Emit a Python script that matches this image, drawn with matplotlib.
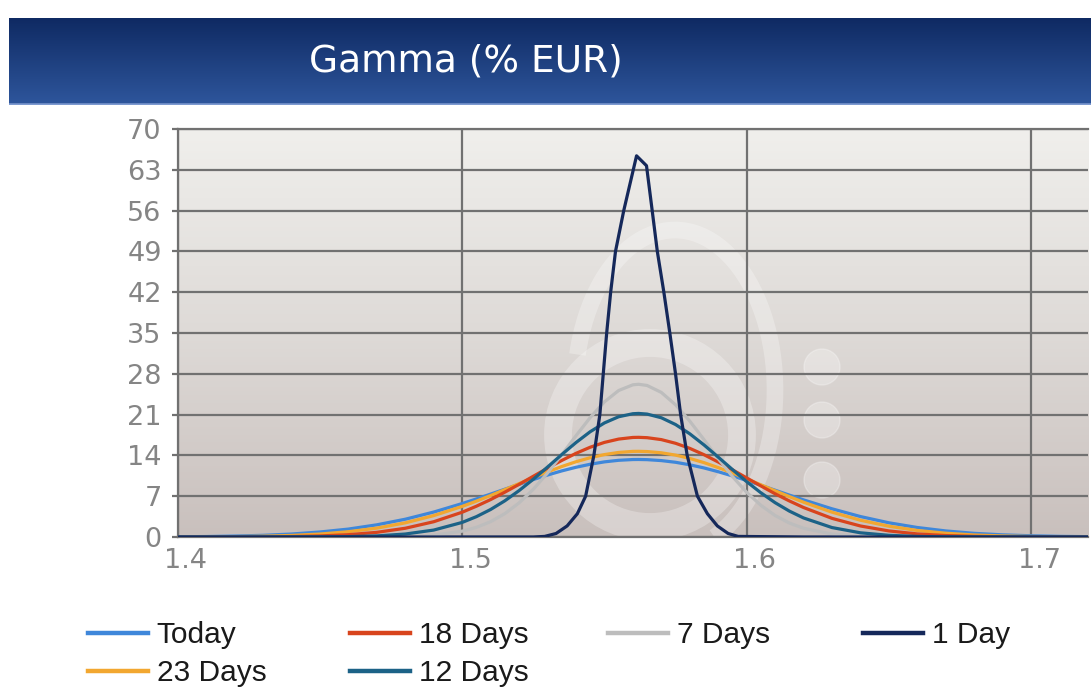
import matplotlib
matplotlib.use("Agg")  # no display
import matplotlib.pyplot as plt
import numpy as np
from matplotlib.colors import LinearSegmentedColormap
from matplotlib.patches import Arc, Circle
from matplotlib.transforms import IdentityTransform, ScaledTranslation

W, H = 1091, 689

# spot grid shared by the five wide curves
X_GRID = [1.39, 1.40, 1.41, 1.42, 1.43, 1.44, 1.45, 1.46, 1.47, 1.48, 1.49, 1.50,
          1.505, 1.51, 1.515, 1.52, 1.525, 1.53, 1.535, 1.54, 1.545, 1.55, 1.555, 1.56,
          1.562,
          1.565, 1.57, 1.575, 1.58, 1.585, 1.59, 1.595, 1.60, 1.605, 1.61, 1.615, 1.62,
          1.63, 1.64, 1.65, 1.66, 1.67, 1.68, 1.69, 1.70, 1.71, 1.72]

TODAY = [0.02, 0.04, 0.08, 0.16, 0.29, 0.51, 0.86, 1.36, 2.09, 3.05, 4.28, 5.74,
         6.53, 7.36, 8.20, 9.04, 9.86, 10.63, 11.34, 11.96, 12.48, 12.89, 13.16, 13.29,
         13.30,
         13.27, 13.11, 12.82, 12.39, 11.85, 11.20, 10.48, 9.70, 8.87, 8.03, 7.19, 6.37,
         4.84, 3.51, 2.44, 1.63, 1.04, 0.63, 0.37, 0.21, 0.11, 0.06]

DAYS_23 = [0.01, 0.01, 0.03, 0.07, 0.14, 0.27, 0.51, 0.91, 1.52, 2.43, 3.67, 5.25,
           6.15, 7.12, 8.13, 9.16, 10.19, 11.17, 12.09, 12.91, 13.60, 14.14, 14.51, 14.69,
           14.70,
           14.66, 14.45, 14.05, 13.48, 12.76, 11.91, 10.98, 9.98, 8.96, 7.93, 6.93, 5.97,
           4.26, 2.88, 1.85, 1.12, 0.65, 0.35, 0.18, 0.09, 0.04, 0.02]

DAYS_18 = [0.00, 0.00, 0.00, 0.01, 0.03, 0.08, 0.18, 0.40, 0.80, 1.50, 2.62, 4.25,
           5.28, 6.42, 7.69, 9.03, 10.42, 11.80, 13.13, 14.35, 15.40, 16.23, 16.80, 17.08,
           17.10,
           17.04, 16.71, 16.08, 15.21, 14.12, 12.87, 11.53, 10.14, 8.76, 7.42, 6.19, 5.06,
           3.20, 1.89, 1.04, 0.53, 0.25, 0.11, 0.05, 0.02, 0.01, 0.00]

DAYS_12 = [0.00, 0.00, 0.00, 0.00, 0.00, 0.01, 0.02, 0.07, 0.19, 0.51, 1.19, 2.50,
           3.49, 4.72, 6.21, 7.96, 9.91, 12.00, 14.14, 16.20, 18.06, 19.57, 20.63, 21.15,
           21.20,
           21.09, 20.46, 19.30, 17.71, 15.80, 13.71, 11.58, 9.50, 7.59, 5.89, 4.45, 3.27,
           1.62, 0.72, 0.29, 0.10, 0.03, 0.01, 0.00, 0.00, 0.00, 0.00]

DAYS_7 = [0.00, 0.00, 0.00, 0.00, 0.00, 0.00, 0.00, 0.00, 0.02, 0.09, 0.32, 1.00,
          1.65, 2.63, 4.01, 5.85, 8.18, 10.97, 14.10, 17.36, 20.49, 23.18, 25.13, 26.11,
          26.20,
          26.00, 24.81, 22.69, 19.89, 16.71, 13.45, 10.38, 7.67, 5.44, 3.69, 2.40, 1.50,
          0.51, 0.15, 0.04, 0.01, 0.00, 0.00, 0.00, 0.00, 0.00, 0.00]

# the 1 day curve is much narrower, so it gets its own points
DAY1_X = [1.39, 1.50, 1.525, 1.529, 1.533, 1.5369, 1.5405, 1.5434, 1.5463, 1.5484,
          1.5496, 1.5508, 1.5522, 1.5539, 1.5568, 1.5613, 1.5648, 1.5668, 1.5686,
          1.5709, 1.5730, 1.5750, 1.5768, 1.5791, 1.5827, 1.5862, 1.5897, 1.5935,
          1.597, 1.62, 1.72]
DAY1_Y = [0.0, 0.0, 0.0, 0.1, 0.6, 1.9, 4.0, 7.0, 14.0, 21.0,
          28.0, 35.0, 42.0, 49.0, 56.0, 65.4, 63.7, 56.0, 49.0,
          42.0, 35.0, 28.0, 21.0, 14.0, 7.0, 4.0, 1.9, 0.6,
          0.1, 0.0, 0.0]

X_TICKS = [1.4, 1.5, 1.6, 1.7]
Y_TICKS = list(range(0, 71, 7))

# draw order (bottom to top)
SERIES = [
    ("Today", X_GRID, TODAY, "#3f87da"),
    ("23 Days", X_GRID, DAYS_23, "#f2a730"),
    ("18 Days", X_GRID, DAYS_18, "#d8441d"),
    ("7 Days", X_GRID, DAYS_7, "#bdbdbd"),
    ("12 Days", X_GRID, DAYS_12, "#1c6287"),
    ("1 Day", DAY1_X, DAY1_Y, "#15285a"),
]
# legend columns: names and left edge in pixels
LEGEND_COLS = [(["Today", "23 Days"], 88), (["18 Days", "12 Days"], 350),
               (["7 Days"], 608), (["1 Day"], 863)]

GRID = "#717171"
TICK = "#858585"

fig = plt.figure(figsize=(W / 100, H / 100), dpi=100)
fig.patch.set_facecolor("white")

# title bar with vertical gradient
bar = fig.add_axes([9 / W, 1 - 105 / H, 1 - 9 / W, 87 / H])
cmap_bar = LinearSegmentedColormap.from_list("bar", ["#0f2a63", "#2e569c"])
bar.imshow(np.linspace(0, 1, 100).reshape(-1, 1), aspect="auto", cmap=cmap_bar,
           extent=[0, 1, 0, 1], origin="upper")
bar.axhline(0.012, color="#7d9ad0", lw=1.8)
bar.set_xlim(0, 1)
bar.set_ylim(0, 1)
bar.axis("off")
bar.text((466 - 9) / (W - 9), 0.5, "Gamma (% EUR)", color="white", fontsize=27,
         ha="center", va="center", family="DejaVu Sans")

# plot area
ax = fig.add_axes([177.7 / W, 1 - 537 / H, (1088 - 177.7) / W, (537 - 129) / H])
cmap_bg = LinearSegmentedColormap.from_list("bg", ["#f0efec", "#dedad7", "#c9c0bd"])
ax.imshow(np.linspace(0, 1, 200).reshape(-1, 1), aspect="auto", cmap=cmap_bg,
          extent=[1.4, 1.72, 0, 70], origin="upper", zorder=0)


def px(x, y):
    return (x, H - y)


# faint logo watermark behind the curves
wm = dict(transform=IdentityTransform(), color="white", alpha=0.28, zorder=0.3)
ax.add_patch(Circle(px(650, 435), 92, fill=False, lw=20, **wm))
ax.add_patch(Arc(px(675, 390), 200, 320, theta1=-75, theta2=160, lw=12, **wm))
for yy in (367, 420, 480):
    ax.add_patch(Circle(px(822, yy), 18, **wm))

for name, xs, ys, col in SERIES:
    ax.plot(xs, ys, color=col, lw=2.3, label=name, zorder=3)

ax.set_xlim(1.4, 1.72)
ax.set_ylim(0, 70)
ax.set_xticks(X_TICKS)
ax.set_xticklabels([f"{v:.1f}" for v in X_TICKS])
ax.set_yticks(Y_TICKS)
ax.set_axisbelow(True)
ax.grid(True, color=GRID, lw=1.6)
for side in ("top", "left", "bottom"):
    ax.spines[side].set_color(GRID)
    ax.spines[side].set_linewidth(1.6)
ax.spines["right"].set_visible(False)
ax.tick_params(axis="y", length=4.5, width=1.6, color=GRID, labelcolor=TICK,
               labelsize=19.5, pad=7)
ax.tick_params(axis="x", length=0, labelcolor=TICK, labelsize=19.5, pad=8)
shift = ScaledTranslation(8 / 100, 0, fig.dpi_scale_trans)
for lab in ax.get_xticklabels():
    lab.set_transform(lab.get_transform() + shift)

# legend below the plot, one small legend per column
handles = {h.get_label(): h for h in ax.get_lines()}
for names, x0 in LEGEND_COLS:
    leg = fig.legend([handles[n] for n in names], names,
                     loc="upper left", bbox_to_anchor=(x0 / W, 1 - 621 / H),
                     frameon=False, prop={"family": "Liberation Sans", "size": 21.5},
                     handlelength=2.0, handletextpad=0.3, labelspacing=0.35,
                     borderpad=0, borderaxespad=0)
    for t in leg.get_texts():
        t.set_color("#1a1a1a")
    for ln in leg.get_lines():
        ln.set_linewidth(3.2)

fig.savefig("out.png", dpi=100)
